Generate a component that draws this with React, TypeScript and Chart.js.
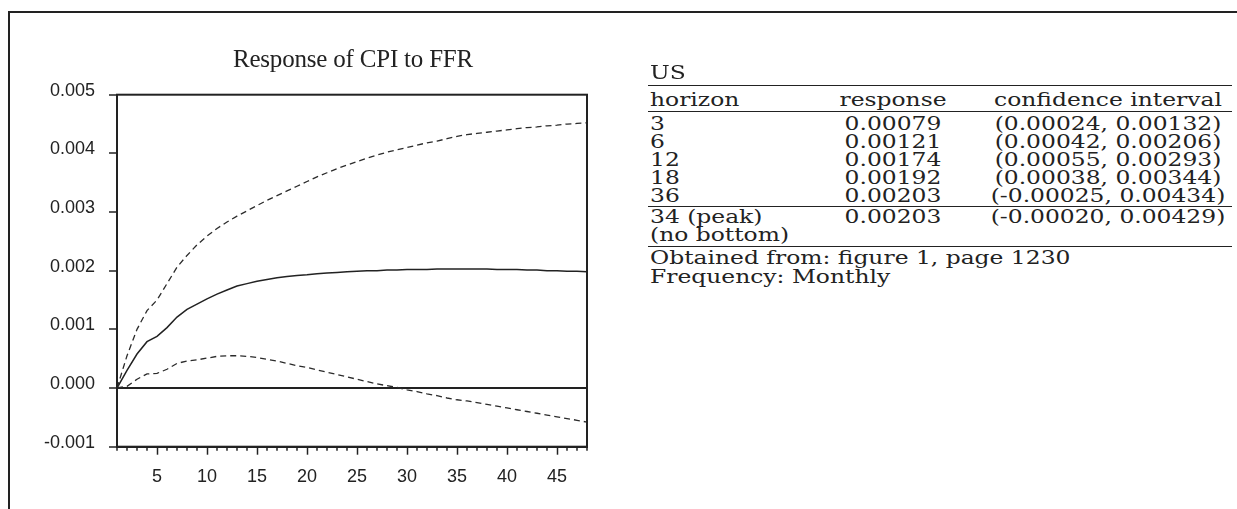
import React, { useEffect, useRef } from "react";
import { Chart, registerables } from "chart.js";

Chart.register(...registerables);

// Horizon index on the x axis (1 = impact period)
const periods = [
  1, 2, 3, 4, 5, 6, 7, 8, 9, 10, 11, 12, 13, 14, 15, 16, 17, 18, 19, 20, 21, 22, 23, 24,
  25, 26, 27, 28, 29, 30, 31, 32, 33, 34, 35, 36, 37, 38, 39, 40, 41, 42, 43, 44, 45, 46, 47, 48,
];

// Point response of CPI to an FFR shock
const response = [
  0.0, 0.0003, 0.00058, 0.00079, 0.00088, 0.00103, 0.00121, 0.00134, 0.00143, 0.00152, 0.0016, 0.00167,
  0.00174, 0.00178, 0.00182, 0.00185, 0.00188, 0.0019, 0.00192, 0.00193, 0.00195, 0.00196, 0.00197, 0.00198,
  0.00199, 0.002, 0.002, 0.00201, 0.00201, 0.00202, 0.00202, 0.00202, 0.00203, 0.00203, 0.00203, 0.00203,
  0.00203, 0.00203, 0.00202, 0.00202, 0.00202, 0.00201, 0.00201, 0.002, 0.002, 0.00199, 0.00199, 0.00198,
];

// Upper confidence band
const upperBand = [
  0.0, 0.00055, 0.001, 0.00132, 0.0015, 0.00178, 0.00206, 0.00226, 0.00244, 0.00259, 0.00272, 0.00283,
  0.00293, 0.00302, 0.00311, 0.0032, 0.00328, 0.00336, 0.00344, 0.00352, 0.0036, 0.00367, 0.00374, 0.0038,
  0.00386, 0.00392, 0.00397, 0.00402, 0.00406, 0.0041, 0.00414, 0.00418, 0.00421, 0.00425, 0.00429, 0.00432,
  0.00434, 0.00436, 0.00438, 0.0044, 0.00442, 0.00444, 0.00445, 0.00447, 0.00448, 0.0045, 0.00451, 0.00452,
];

// Lower confidence band
const lowerBand = [
  0.0, 0.00003, 0.00015, 0.00024, 0.00025, 0.00032, 0.00042, 0.00046, 0.00048, 0.00051, 0.00054, 0.00055,
  0.00055, 0.00054, 0.00052, 0.00049, 0.00046, 0.00042, 0.00038, 0.00035, 0.00031, 0.00027, 0.00023, 0.00019,
  0.00015, 0.00011, 0.00007, 0.00004, 0.00001, -0.00003, -0.00006, -0.0001, -0.00013, -0.00017, -0.0002, -0.00022,
  -0.00025, -0.00028, -0.00031, -0.00034, -0.00037, -0.0004, -0.00043, -0.00046, -0.00049, -0.00052, -0.00055, -0.00058,
];

const yMin = -0.001;
const yMax = 0.005;
const yStep = 0.001;
const xLabelEvery = 5;

const chartTitle = "Response of CPI to FFR";

// Summary table
const tableCountry = "US";
const tableHeaders = ["horizon", "response", "confidence interval"];
const tableHorizons = ["3", "6", "12", "18", "36"];
const tableResponses = ["0.00079", "0.00121", "0.00174", "0.00192", "0.00203"];
const tableIntervals = [
  "(0.00024, 0.00132)",
  "(0.00042, 0.00206)",
  "(0.00055, 0.00293)",
  "(0.00038, 0.00344)",
  "(-0.00025, 0.00434)",
];
const peakRow = ["34 (peak)", "0.00203", "(-0.00020, 0.00429)"];
const bottomRow = ["(no bottom)", "", ""];
const notes = ["Obtained from: figure 1, page 1230", "Frequency: Monthly"];

const INK = "#222";
const SANS = '"Liberation Sans", Arial, sans-serif';
const SERIF = '"Liberation Serif", "Times New Roman", serif';
const TABLE_FONT = '"DejaVu Serif", serif';
const STRETCH = 1.3;

const framePlugin = {
  id: "frame",
  afterDraw(chart: any) {
    const { ctx, chartArea, scales } = chart;
    const xs = scales.x;
    ctx.save();
    ctx.strokeStyle = INK;
    ctx.lineWidth = 1.5;
    for (const p of periods) {
      if (p % xLabelEvery === 0) continue;
      const px = xs.getPixelForValue(p);
      ctx.beginPath();
      ctx.moveTo(px, chartArea.bottom);
      ctx.lineTo(px, chartArea.bottom + 4);
      ctx.stroke();
    }
    ctx.lineWidth = 2;
    ctx.strokeRect(chartArea.left, chartArea.top, chartArea.right - chartArea.left, chartArea.bottom - chartArea.top);
    ctx.restore();
  },
};

function IrfChart() {
  const ref = useRef<HTMLCanvasElement | null>(null);
  useEffect(() => {
    if (!ref.current) return;
    const mk = (vals: number[]) => periods.map((p, i) => ({ x: p, y: vals[i] }));
    const dashed = {
      borderColor: "#2b2b2b",
      borderWidth: 1.3,
      borderDash: [6, 4],
      pointRadius: 0,
      fill: false,
    };
    const chart = new Chart(ref.current, {
      type: "line",
      data: {
        datasets: [
          { label: "upper", data: mk(upperBand), ...dashed },
          {
            label: "response",
            data: mk(response),
            borderColor: "#222",
            borderWidth: 1.5,
            pointRadius: 0,
            fill: false,
          },
          { label: "lower", data: mk(lowerBand), ...dashed },
        ],
      },
      options: {
        responsive: false,
        animation: false,
        layout: { padding: { top: 94.7, left: 0, right: 33, bottom: 0 } },
        plugins: {
          legend: { display: false },
          tooltip: { enabled: false },
          title: { display: false },
        },
        scales: {
          x: {
            type: "linear",
            min: 1,
            max: 48,
            ticks: {
              stepSize: 1,
              autoSkip: false,
              maxRotation: 0,
              color: INK,
              padding: 11.5,
              font: { family: SANS, size: 18 },
              callback: (v: any) => (Number(v) % xLabelEvery === 0 ? String(v) : ""),
            },
            grid: {
              drawOnChartArea: false,
              drawTicks: true,
              tickLength: 8,
              tickWidth: 1.5,
              tickColor: (c: any) =>
                c.tick && Number(c.tick.value) % xLabelEvery === 0 ? INK : "rgba(0,0,0,0)",
            },
            border: { display: true, color: INK, width: 2 },
            afterFit: (s: any) => {
              s.height = 62.3;
            },
          },
          y: {
            min: yMin,
            max: yMax,
            ticks: {
              stepSize: yStep,
              color: INK,
              padding: 14,
              labelOffset: -4,
              font: { family: SANS, size: 18 },
              callback: (v: any) => (Math.abs(Number(v)) < 1e-9 ? "0.000" : Number(v).toFixed(3)),
            },
            grid: {
              drawOnChartArea: true,
              color: (c: any) =>
                c.tick && Math.abs(Number(c.tick.value)) < 1e-9 ? INK : "rgba(0,0,0,0)",
              lineWidth: (c: any) => (c.tick && Math.abs(Number(c.tick.value)) < 1e-9 ? 2 : 0),
              tickColor: INK,
              tickWidth: 1.5,
              tickLength: 8,
            },
            border: { display: true, color: INK, width: 2 },
            afterFit: (s: any) => {
              s.width = 117;
            },
          },
        },
      },
      plugins: [framePlugin],
    });
    return () => chart.destroy();
  }, []);
  return (
    <canvas
      ref={ref}
      width={620}
      height={509}
      style={{ position: "absolute", left: 0, top: 0, width: 620, height: 509 }}
    />
  );
}

const rule = (top: number, w: number): React.CSSProperties => ({
  position: "absolute",
  left: 648,
  width: 584,
  top,
  height: 0,
  borderTop: `${w}px solid ${INK}`,
});

const leftText = (left: number, top: number): React.CSSProperties => ({
  position: "absolute",
  left,
  top,
  lineHeight: "18px",
  whiteSpace: "nowrap",
  transform: `scaleX(${STRETCH})`,
  transformOrigin: "left center",
});

const centerText = (center: number, top: number): React.CSSProperties => ({
  position: "absolute",
  left: center,
  top,
  lineHeight: "18px",
  whiteSpace: "nowrap",
  transform: `translateX(-50%) scaleX(${STRETCH})`,
  transformOrigin: "center center",
});

function Row({ top, cells }: { top: number; cells: string[] }) {
  return (
    <>
      <div style={leftText(650, top)}>{cells[0]}</div>
      <div style={centerText(893, top)}>{cells[1]}</div>
      <div style={centerText(1108, top)}>{cells[2]}</div>
    </>
  );
}

export default function App() {
  const rowTops = [115, 133, 151, 169, 187];
  return (
    <div
      style={{
        position: "absolute",
        left: 0,
        top: 0,
        width: 1237,
        height: 509,
        overflow: "hidden",
        background: "#fff",
      }}
    >
      <div
        style={{
          position: "absolute",
          left: 8,
          top: 11,
          right: -10,
          bottom: -10,
          borderTop: `2px solid ${INK}`,
          borderLeft: `2px solid ${INK}`,
        }}
      />
      <IrfChart />
      <div
        style={{
          position: "absolute",
          left: 353,
          top: 44,
          transform: "translateX(-50%)",
          fontFamily: SERIF,
          fontSize: 25,
          lineHeight: "30px",
          whiteSpace: "nowrap",
          color: INK,
          letterSpacing: "-0.2px",
        }}
      >
        {chartTitle}
      </div>
      <div style={{ fontFamily: TABLE_FONT, fontSize: 18, color: INK }}>
        <div style={leftText(650, 64)}>{tableCountry}</div>
        <div style={rule(85, 1.5)} />
        <Row top={91} cells={tableHeaders} />
        <div style={rule(111, 1.2)} />
        {tableHorizons.map((h, i) => (
          <Row key={h} top={rowTops[i]} cells={[h, tableResponses[i], tableIntervals[i]]} />
        ))}
        <div style={rule(206, 1)} />
        <Row top={208} cells={peakRow} />
        <Row top={226} cells={bottomRow} />
        <div style={rule(246, 1.2)} />
        <div style={leftText(650, 249)}>{notes[0]}</div>
        <div style={leftText(650, 268)}>{notes[1]}</div>
      </div>
    </div>
  );
}
